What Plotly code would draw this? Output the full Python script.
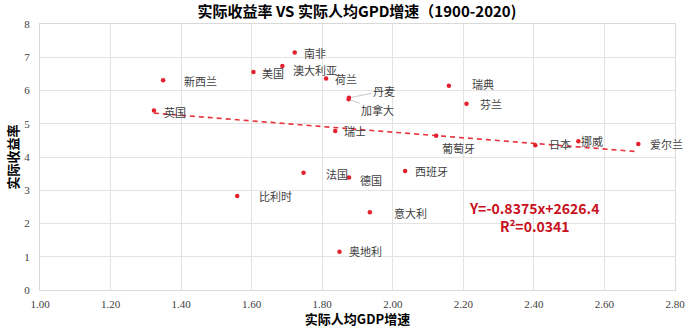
import numpy as np
import plotly.graph_objects as go

# ---- data ----
countries = ["南非", "澳大利亚", "美国", "新西兰", "英国", "荷兰", "瑞士", "丹麦", "加拿大",
             "瑞典", "芬兰", "葡萄牙", "日本", "挪威", "爱尔兰", "法国", "德国", "西班牙",
             "意大利", "奥地利", "比利时"]
gdp_growth = [1.722, 1.687, 1.605, 1.349, 1.323, 1.811, 1.837, 1.876, 1.875,
              2.159, 2.209, 2.123, 2.404, 2.526, 2.696, 1.747, 1.876, 2.035,
              1.935, 1.849, 1.559]
real_return = [7.14, 6.74, 6.56, 6.31, 5.40, 6.36, 4.78, 5.78, 5.74,
               6.14, 5.60, 4.64, 4.35, 4.47, 4.39, 3.53, 3.38, 3.58,
               2.34, 1.15, 2.83]
x_ticks = [1.0, 1.2, 1.4, 1.6, 1.8, 2.0, 2.2, 2.4, 2.6, 2.8]
x_tick_labels = ["1.00", "1.20", "1.40", "1.60", "1.80", "2.00", "2.20", "2.40", "2.60", "2.80"]
y_ticks = [0, 1, 2, 3, 4, 5, 6, 7, 8]
equation_text = "<b>Y=-0.8375x+2626.4<br>R²=0.0341</b>"

# ---- label placement (style only): (xshift, yshift) in px ----
label_offsets = {
    "南非": (7, 0), "澳大利亚": (9, -4), "美国": (7, -1), "新西兰": (19, -1),
    "英国": (8, -2), "荷兰": (7, 0), "瑞士": (7, 0),
    "瑞典": (21, 2), "芬兰": (11, 0), "葡萄牙": (4, -12), "日本": (12, 1),
    "挪威": (1, 0), "爱尔兰": (10, 0), "法国": (20, -1), "德国": (9, -2),
    "西班牙": (8, 0), "意大利": (22, -1), "奥地利": (7, 1), "比利时": (20, 0),
}
leader_labels = {"丹麦": (35, -7), "加拿大": (29, 11)}

red = "#e3202c"
fig = go.Figure()

# trendline from least squares fit
slope, intercept = np.polyfit(gdp_growth, real_return, 1)
xs = np.array([min(gdp_growth), max(gdp_growth)])
fig.add_trace(go.Scatter(x=xs, y=slope * xs + intercept, mode="lines",
                         line=dict(color="#e8323c", width=1.6, dash="5px,4px"),
                         hoverinfo="skip", showlegend=False))

fig.add_trace(go.Scatter(x=gdp_growth, y=real_return, mode="markers",
                         marker=dict(color=red, size=4.5),
                         text=countries, showlegend=False))

lab_font = dict(family="Noto Sans CJK SC", size=11, color="#404040")
for name, xv, yv in zip(countries, gdp_growth, real_return):
    if name in label_offsets:
        dx, dy = label_offsets[name]
        fig.add_annotation(x=xv, y=yv, text=name, showarrow=False,
                           xanchor="left", yanchor="middle",
                           xshift=dx, yshift=dy, font=lab_font)
    elif name in leader_labels:
        ax, ay = leader_labels[name]
        fig.add_annotation(x=xv, y=yv, text=name, showarrow=True,
                           arrowhead=0, arrowwidth=1, arrowcolor="#c8c8c8",
                           ax=ax, ay=ay, standoff=2, font=lab_font)

fig.add_annotation(x=2.4, y=2.2, text=equation_text, showarrow=False,
                   xanchor="center", yanchor="middle", align="center",
                   font=dict(family="Noto Sans CJK SC", size=14, color="#c8101e"))

axis_common = dict(showgrid=True, gridcolor="#e3e3e3", gridwidth=1,
                   showline=True, linecolor="#d9d9d9", linewidth=1,
                   zeroline=False, ticks="", automargin=False,
                   tickfont=dict(family="Liberation Serif", size=11, color="#404040"))

fig.update_xaxes(range=[1.0, 2.8], tickvals=x_ticks, ticktext=x_tick_labels,
                 mirror=True, ticklabelstandoff=4,
                 title=dict(text="<b>实际人均GDP增速</b>", standoff=4,
                            font=dict(family="Noto Sans CJK SC", size=13, color="#000000")),
                 **axis_common)
fig.update_yaxes(range=[0, 8], tickvals=y_ticks, mirror=True, ticklabelstandoff=7,
                 title=dict(text="<b>实际收益率</b>", standoff=2,
                            font=dict(family="Noto Sans CJK SC", size=13, color="#000000")),
                 **axis_common)

fig.update_layout(
    width=700, height=328,
    margin=dict(l=40, r=25, t=24, b=38),
    paper_bgcolor="white", plot_bgcolor="white",
    title=dict(text="<b>实际收益率 VS 实际人均GPD增速（1900-2020)</b>",
               x=0.51, xanchor="center", y=0.963, yanchor="middle",
               font=dict(family="Noto Sans CJK SC", size=15, color="#000000")),
    hovermode="closest",
)

fig.write_html("out.html")
